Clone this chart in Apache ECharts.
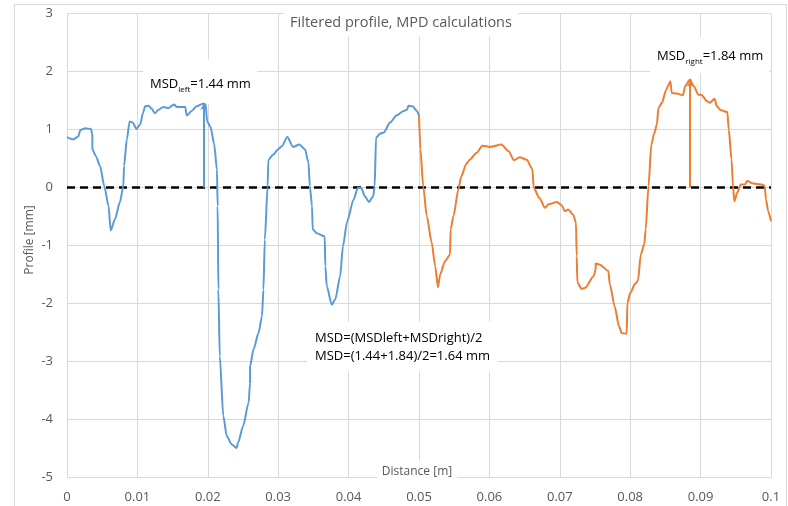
<!DOCTYPE html>
<html>
<head>
<meta charset="utf-8">
<script src="https://cdn.jsdelivr.net/npm/echarts@6/dist/echarts.min.js"></script>
<style>html,body{margin:0;padding:0;background:#fff}#c{width:788px;height:506px}</style>
</head>
<body>
<div id="c"></div>
<script>
// Blue (left part) profile: distance [m], profile [mm]
const leftX = [0.0000,0.0009,0.0016,0.0019,0.0026,0.0034,0.0036,0.0036,0.0041,0.0047,0.0053,0.0059,0.0062,0.0068,0.0075,0.0080,0.0081,0.0085,0.0089,0.0093,0.0099,0.0104,0.0108,0.0111,0.0116,0.0120,0.0125,0.0130,0.0137,0.0144,0.0152,0.0156,0.0168,0.0170,0.0177,0.0184,0.0194,0.0197,0.0199,0.0204,0.0209,0.0213,0.0214,0.0215,0.0217,0.0222,0.0227,0.0234,0.0241,0.0243,0.0250,0.0258,0.0260,0.0260,0.0265,0.0272,0.0277,0.0279,0.0281,0.0285,0.0286,0.0293,0.0300,0.0305,0.0313,0.0321,0.0330,0.0338,0.0343,0.0345,0.0348,0.0349,0.0355,0.0366,0.0367,0.0369,0.0376,0.0381,0.0388,0.0392,0.0398,0.0407,0.0413,0.0418,0.0423,0.0429,0.0435,0.0437,0.0439,0.0445,0.0450,0.0459,0.0468,0.0478,0.0483,0.0485,0.0491,0.0497,0.0500];
const leftY = [0.87,0.83,0.88,0.99,1.02,1.01,0.91,0.66,0.54,0.37,0.02,-0.32,-0.74,-0.55,-0.26,0.02,0.37,0.83,1.14,1.12,1.01,1.09,1.29,1.40,1.41,1.36,1.28,1.34,1.39,1.37,1.43,1.39,1.39,1.24,1.32,1.40,1.45,1.43,1.14,1.04,0.75,0.31,-0.32,-1.76,-2.91,-3.94,-4.29,-4.43,-4.49,-4.40,-4.12,-3.71,-3.37,-3.08,-2.79,-2.51,-2.22,-1.76,-0.90,0.02,0.48,0.57,0.66,0.71,0.87,0.70,0.74,0.66,0.43,0.02,-0.32,-0.72,-0.79,-0.84,-1.36,-1.70,-2.02,-1.93,-1.53,-1.01,-0.58,-0.21,-0.01,-0.01,-0.15,-0.25,-0.15,0.02,0.86,0.93,0.95,1.12,1.24,1.32,1.34,1.41,1.40,1.32,1.24];

// Orange (right part) profile
const rightX = [0.0500,0.0502,0.0506,0.0511,0.0518,0.0523,0.0527,0.0530,0.0537,0.0544,0.0545,0.0549,0.0556,0.0560,0.0567,0.0570,0.0572,0.0582,0.0590,0.0601,0.0617,0.0627,0.0635,0.0643,0.0653,0.0661,0.0663,0.0671,0.0679,0.0684,0.0696,0.0703,0.0707,0.0712,0.0719,0.0723,0.0724,0.0725,0.0731,0.0736,0.0748,0.0751,0.0751,0.0757,0.0769,0.0771,0.0778,0.0784,0.0788,0.0795,0.0796,0.0800,0.0807,0.0811,0.0815,0.0820,0.0822,0.0826,0.0830,0.0834,0.0838,0.0840,0.0845,0.0851,0.0854,0.0857,0.0859,0.0866,0.0875,0.0878,0.0885,0.0890,0.0897,0.0901,0.0909,0.0913,0.0920,0.0923,0.0929,0.0938,0.0940,0.0944,0.0946,0.0948,0.0952,0.0957,0.0963,0.0966,0.0975,0.0987,0.0991,0.0993,0.0996,0.1000];
const rightY = [1.24,0.66,0.02,-0.49,-0.95,-1.36,-1.72,-1.50,-1.27,-1.16,-0.72,-0.49,-0.03,0.19,0.40,0.45,0.48,0.60,0.72,0.70,0.74,0.63,0.47,0.52,0.48,0.32,-0.01,-0.18,-0.35,-0.29,-0.25,-0.31,-0.41,-0.38,-0.47,-0.61,-1.18,-1.64,-1.75,-1.73,-1.53,-1.41,-1.31,-1.33,-1.44,-1.67,-2.05,-2.39,-2.51,-2.52,-1.99,-1.82,-1.66,-1.61,-1.16,-0.98,-0.72,0.02,0.74,0.93,1.09,1.37,1.46,1.68,1.76,1.83,1.63,1.62,1.59,1.75,1.86,1.75,1.60,1.60,1.49,1.46,1.53,1.40,1.33,1.30,1.00,0.48,0.02,-0.24,-0.09,0.05,0.05,0.11,0.07,0.05,0.03,-0.21,-0.41,-0.58];

// MSD markers
const msdLeftX = 0.0194, msdLeft = 1.44;
const msdRightX = 0.0885, msdRight = 1.84;
const msdMean = 1.64;

// Zero reference line
const zeroX = [0, 0.1];
const zeroY = [0, 0];

const pair = (xs, ys) => xs.map((x, i) => [x, ys[i]]);
const FONT = '"Open Sans", "Noto Sans", sans-serif';
const GRAY = '#595959';
const BLUE = '#5B9BD5', ORANGE = '#ED7D31';

const chart = echarts.init(document.getElementById('c'), null, {renderer: 'canvas'});
chart.setOption({
  animation: false,
  backgroundColor: '#fff',
  grid: {left: 67, right: 17, top: 13.5, bottom: 28.5, containLabel: false},
  xAxis: {
    type: 'value', min: 0, max: 0.1, interval: 0.01,
    axisLine: {show: false}, axisTick: {show: false},
    splitLine: {show: true, lineStyle: {color: '#d9d9d9', width: 1}},
    axisLabel: {color: GRAY, fontFamily: FONT, fontSize: 13, margin: 13,
      formatter: v => String(parseFloat(v.toFixed(3)))}
  },
  yAxis: {
    type: 'value', min: -5, max: 3, interval: 1,
    axisLine: {show: false}, axisTick: {show: false},
    splitLine: {show: true, lineStyle: {color: '#d9d9d9', width: 1}},
    axisLabel: {color: GRAY, fontFamily: FONT, fontSize: 13, margin: 14}
  },
  series: [
    {
      name: 'Zero', type: 'line', data: pair(zeroX, zeroY), symbol: 'none', z: 3,
      lineStyle: {color: '#000', width: 2.5, type: [8, 5]}
    },
    {
      name: 'Left', type: 'line', data: pair(leftX, leftY), symbol: 'none', z: 4,
      smooth: 0.25, smoothMonotone: 'x',
      lineStyle: {color: BLUE, width: 2},
      markLine: {
        silent: true, symbol: ['none', 'arrow'], symbolSize: [5, 6],
        label: {show: false}, lineStyle: {color: BLUE, width: 2, type: 'solid'},
        data: [[{coord: [msdLeftX, 0]}, {coord: [msdLeftX, msdLeft]}]]
      }
    },
    {
      name: 'Right', type: 'line', data: pair(rightX, rightY), symbol: 'none', z: 4,
      smooth: 0.25, smoothMonotone: 'x',
      lineStyle: {color: ORANGE, width: 2},
      markLine: {
        silent: true, symbol: ['none', 'arrow'], symbolSize: [5, 6],
        label: {show: false}, lineStyle: {color: ORANGE, width: 2, type: 'solid'},
        data: [[{coord: [msdRightX, 0]}, {coord: [msdRightX, msdRight]}]]
      }
    }
  ],
  graphic: [
    {type: 'rect', z: 0, silent: true, shape: {x: 14.5, y: 4.5, width: 772, height: 530},
     style: {fill: 'none', stroke: '#d9d9d9', lineWidth: 1}},
    {type: 'text', z: 1, x: 30, y: 240, rotation: Math.PI / 2, silent: true,
     style: {text: 'Profile [mm]', font: '12px ' + FONT, fill: GRAY,
       textAlign: 'center', textVerticalAlign: 'middle'}},
    {type: 'text', z: 1, x: 401, y: 23, silent: true,
     style: {text: 'Filtered profile, MPD calculations', font: '14.5px ' + FONT, fill: GRAY,
       textAlign: 'center', textVerticalAlign: 'middle', backgroundColor: '#fff', padding: [6, 6, 6, 6]}},
    {type: 'text', z: 1, x: 143, y: 82, silent: true,
     style: {text: '{m|MSD}{s|left}{m|=' + msdLeft.toFixed(2) + ' mm}', fill: '#000',
       textAlign: 'left', textVerticalAlign: 'middle', backgroundColor: '#fff', padding: [15, 6, 14, 7],
       rich: {m: {font: '13px ' + FONT, fill: '#000', lineHeight: 16, verticalAlign: 'bottom'},
              s: {font: '8px ' + FONT, fill: '#000', lineHeight: 16, verticalAlign: 'bottom', padding: [0,0,-3,0]}}}},
    {type: 'text', z: 1, x: 650, y: 55, silent: true,
     style: {text: '{m|MSD}{s|right}{m|=' + msdRight.toFixed(2) + ' mm}', fill: '#000',
       textAlign: 'left', textVerticalAlign: 'middle', backgroundColor: '#fff', padding: [10, 6, 10, 7],
       rich: {m: {font: '13px ' + FONT, fill: '#000', lineHeight: 16, verticalAlign: 'bottom'},
              s: {font: '8px ' + FONT, fill: '#000', lineHeight: 16, verticalAlign: 'bottom', padding: [0,0,-3,0]}}}},
    {type: 'text', z: 1, x: 307, y: 347, silent: true,
     style: {text: 'MSD=(MSDleft+MSDright)/2\nMSD=(' + msdLeft.toFixed(2) + '+' + msdRight.toFixed(2) + ')/2=' + msdMean.toFixed(2) + ' mm',
       font: '13px ' + FONT, fill: '#000', lineHeight: 18,
       textAlign: 'left', textVerticalAlign: 'middle', backgroundColor: '#fff', padding: [7, 8, 7, 8]}},
    {type: 'text', z: 1, x: 417, y: 472, silent: true,
     style: {text: 'Distance [m]', font: '12px ' + FONT, fill: GRAY,
       textAlign: 'center', textVerticalAlign: 'middle', backgroundColor: '#fff', padding: [3, 5, 8, 5]}}
  ]
});
</script>
</body>
</html>
